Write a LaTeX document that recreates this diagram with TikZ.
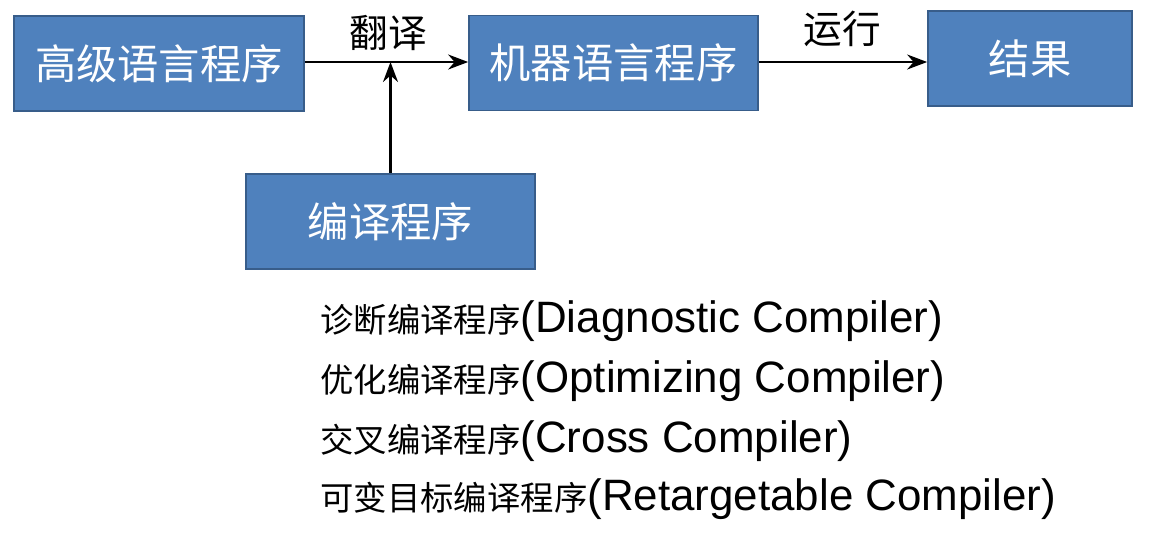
\documentclass[tikz,border=0pt]{standalone}
\usepackage{fontspec}
\setmainfont{Noto Sans CJK SC}
\newfontfamily\latin{Liberation Sans}
\usetikzlibrary{arrows.meta, positioning}
\definecolor{boxfill}{HTML}{4F81BD}
\definecolor{boxline}{HTML}{385D8A}
\newcommand{\lat}[1]{{\latin\fontsize{25}{29}\selectfont #1}}
\begin{document}
\begin{tikzpicture}[x=0.02cm, y=-0.02cm,
      every node/.style={font=\fontsize{23.5}{28}\selectfont},
      prog/.style={rectangle, draw=boxline, line width=1pt, fill=boxfill, text=white, minimum height=1.9cm},
      flow/.style={-{Stealth[length=4mm, width=3mm]}, line width=1.2pt},
      item/.style={anchor=west, font=\fontsize{19}{23}\selectfont, inner sep=0pt}]
      \useasboundingbox (0,0) rectangle (1150,532);

      % Blocks
      \node[prog, minimum width=5.8cm] (high) at (159,63.5) {高级语言程序};
      \node[prog, minimum width=5.78cm] (machine) at (613.5,63) {机器语言程序};
      \node[prog, minimum width=4.08cm] (result) at (1030,58.5) {结果};
      \node[prog, minimum width=5.78cm] (compiler) at (390.5,221.5) {编译程序};
      \coordinate (join) at (compiler.north |- 0,62);

      % Arrows
      \draw[flow] (high.east |- join) -- (machine.west |- join);
      \draw[flow] (machine.east |- join) -- (result.west |- join);
      \draw[flow] (compiler.north) -- (join);

      % Labels
      \node[font=\fontsize{22}{26}\selectfont] (translate) at (388,33) {翻译};
      \node[font=\fontsize{22}{26}\selectfont] (run) at (842,29) {运行};

      % Kinds
      \node[item] (diag) at (320,321) {诊断编译程序\lat{(Diagnostic Compiler)}};
      \node[item] (opt) at (320,381) {优化编译程序\lat{(Optimizing Compiler)}};
      \node[item] (cross) at (320,441) {交叉编译程序\lat{(Cross Compiler)}};
      \node[item] (retarget) at (320,499) {可变目标编译程序\lat{(Retargetable Compiler)}};
    \end{tikzpicture}
\end{document}
